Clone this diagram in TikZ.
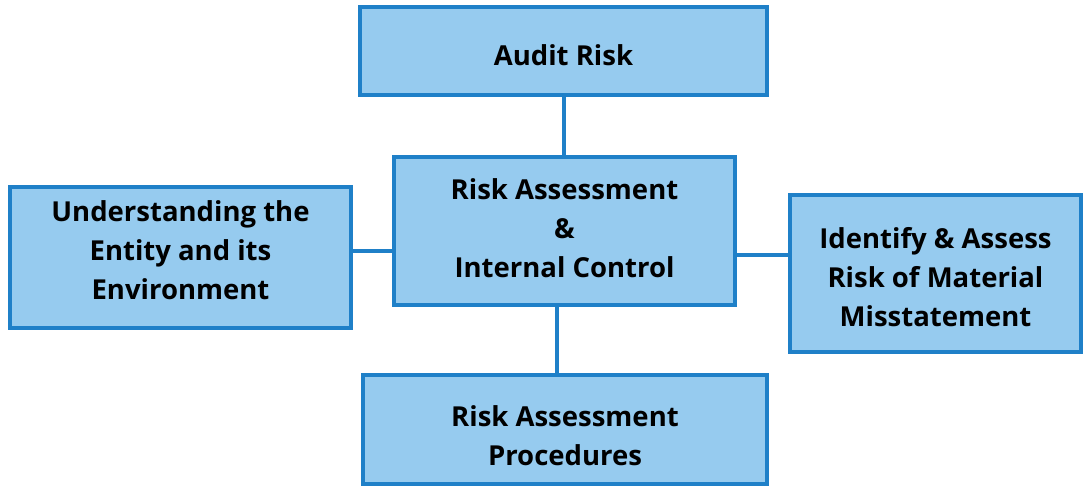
\documentclass[tikz,border=0pt]{standalone}
\usepackage{fontspec}
\setmainfont{Open Sans}
\usepackage{xcolor}
\usetikzlibrary{
    calc,
    positioning
}
\definecolor{boxfill}{HTML}{96CBEF}
\definecolor{boxline}{HTML}{1F80C8}
% struts that set where the text block sits in its box
\newcommand{\upstrut}[1]{\rule{0pt}{#1}}
\newcommand{\downstrut}[1]{\rule[-#1]{0pt}{#1}}

\begin{document}
\begin{tikzpicture}[x=1pt, y=-1pt,
    riskbox/.style={draw=boxline, fill=boxfill, line width=4pt, rectangle,
        align=center, font=\fontsize{27.5}{39}\selectfont\bfseries, inner sep=0pt},
    link/.style={draw=boxline, line width=4pt}]
                                        \useasboundingbox (0, 0) rectangle (1084, 487);
                                        \node[riskbox, minimum width=407pt, minimum height=88pt] (audit) at (563.5, 51) {\upstrut{40pt}Audit Risk\downstrut{10pt}};
                                        \node[riskbox, minimum width=341pt, minimum height=148pt] (assess) at (564.5, 231) {\upstrut{25pt}Risk Assessment\\\&\\Internal Control\downstrut{10pt}};
                                        \node[riskbox, minimum width=341pt, minimum height=141pt] (entity) at (180.5, 257.5) {\upstrut{26pt}Understanding the\\Entity and its\\Environment\downstrut{20pt}};
                                        \node[riskbox, minimum width=291pt, minimum height=157pt] (rmm) at (935.5, 273.5) {\upstrut{37.5pt}Identify \& Assess\\Risk of Material\\Misstatement\downstrut{10pt}};
                                        \node[riskbox, minimum width=404pt, minimum height=109pt] (proc) at (565, 429.5) {\upstrut{42pt}Risk Assessment\\Procedures\downstrut{10pt}};

                                        \draw[link]
                                        (audit.south) -- (audit.south |- assess.north)
                                        ([yshift=6.5pt]entity.east) -- ([yshift=6.5pt]entity.east -| assess.west)
                                        ([yshift=18.5pt]rmm.west) -- ([yshift=18.5pt]rmm.west -| assess.east)
                                        ([xshift=-7.5pt]assess.south) -- ([xshift=-7.5pt]assess.south |- proc.north);
                                    \end{tikzpicture}
\end{document}
